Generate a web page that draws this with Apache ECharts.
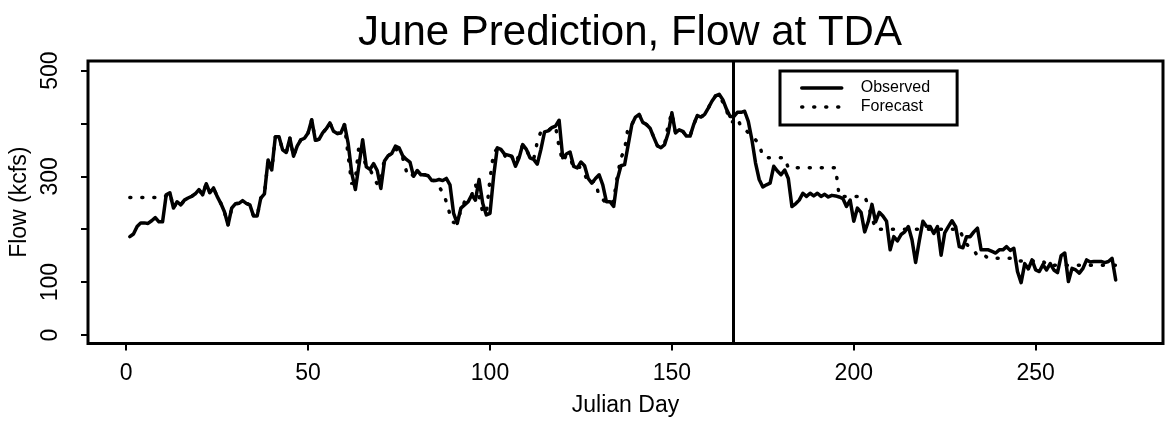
<!DOCTYPE html>
<html><head><meta charset="utf-8">
<script src="https://cdn.jsdelivr.net/npm/echarts@6/dist/echarts.min.js"></script>
<style>html,body{margin:0;padding:0;background:#fff}#c{width:1167px;height:423px}</style>
</head><body><div id="c"></div>
<script>
const firstDay = 1;
const forecastDay = 167;
const xTicks = [0, 50, 100, 150, 200, 250];
const yTicks = [0, 100, 200, 300, 400, 500];
const yTickLabels = [0, 100, 300, 500];
const seriesNames = ['Observed', 'Forecast'];

const observed = [
  186,191,205,212,212,211,216,222,214,214,
  265,269,240,252,246,255,259,262,267,275,
  265,286,269,278,262,249,233,208,240,248,
  249,254,249,246,225,225,259,267,331,312,
  375,375,350,345,372,338,357,369,372,382,
  407,368,370,382,390,401,385,381,382,398,
  363,306,275,322,369,318,313,324,311,277,
  329,339,343,357,354,339,332,327,300,311,
  303,303,301,292,292,294,292,296,284,230,
  211,240,246,252,265,255,294,249,227,230,
  300,354,351,342,340,338,319,335,360,351,
  335,332,323,351,384,386,392,395,406,335,
  342,346,319,316,327,320,296,287,296,303,
  284,252,252,243,294,320,322,360,398,412,
  417,402,398,391,374,358,354,360,382,420,
  382,388,385,376,376,398,415,412,417,429,
  442,452,455,445,427,413,413,421,421,423,
  404,369,325,294,280,284,287,319,310,303,
  312,296,243,248,255,268,262,268,263,268,
  262,266,261,264,263,261,258,243,255,215,
  240,232,195,215,247,214,232,225,215,161,
  186,178,190,195,205,180,137,178,215,205,
  205,192,205,151,193,205,216,205,167,165,
  186,186,195,202,161,161,161,158,155,161,
  161,167,160,164,120,99,135,125,142,123,
  120,133,123,135,123,118,150,155,101,126,
  123,117,126,142,138,139,139,139,137,139,
  145,104
];

const forecast = [
  260,260,260,260,260,260,260,260,260,260,
  263,269,240,252,246,255,259,262,267,275,
  265,286,269,278,262,249,233,208,240,248,
  249,254,249,246,225,225,259,267,331,312,
  375,375,350,345,372,338,357,369,372,382,
  407,368,370,382,390,401,385,381,382,398,
  340,285,295,360,340,318,313,300,285,290,
  335,339,343,355,340,335,310,298,305,305,
  303,303,301,292,292,280,270,252,228,212,
  215,235,252,255,265,285,262,232,230,295,
  345,352,345,340,330,337,325,340,360,351,
  335,332,365,385,384,386,392,395,355,328,
  340,335,316,320,316,305,287,290,290,262,
  256,250,245,255,300,335,350,395,398,412,
  417,402,398,391,374,358,354,360,398,420,
  382,388,385,376,376,398,415,412,417,429,
  442,452,455,440,425,405,402,410,394,390,
  382,375,369,360,338,335,335,335,335,335,
  335,316,316,316,316,316,316,316,316,316,
  316,316,316,316,316,262,262,262,262,262,
  262,262,262,245,222,200,200,200,200,200,
  200,200,200,200,200,200,200,200,200,200,
  200,200,200,200,200,200,200,200,200,185,
  172,165,160,150,150,150,145,145,145,145,
  145,145,145,145,140,140,140,140,140,140,
  140,140,132,132,132,132,132,132,132,132,
  132,132,132,132,132,132,132,132,132,132,
  132,132
];

const obsPairs = observed.map((v, i) => [firstDay + i, v]);
const fcPairs = forecast.map((v, i) => [firstDay + i, v]);

const chart = echarts.init(document.getElementById('c'), null, {renderer: 'canvas'});
const FONT = 'Liberation Sans, Arial, sans-serif';
chart.setOption({
  animation: false,
  backgroundColor: '#fff',
  textStyle: {fontFamily: FONT, color: '#000'},
  title: {
    text: 'June Prediction, Flow at TDA',
    left: 625, top: 7, textAlign: 'center',
    textStyle: {fontFamily: FONT, fontSize: 42, fontWeight: 'normal', color: '#000'}
  },
  legend: {
    data: seriesNames,
    orient: 'vertical',
    left: 780, top: 71,
    itemWidth: 40, itemHeight: 14, itemGap: 3,
    padding: [9, 27, 10, 20],
    borderColor: '#000', borderWidth: 3,
    itemStyle: {opacity: 0},
    lineStyle: {width: 3.5, cap: 'round'},
    textStyle: {fontFamily: FONT, fontSize: 16, color: '#000', padding: [0, 0, 0, 14]}
  },
  grid: {
    left: 88, right: 4, top: 61, bottom: 79.5,
    show: true, borderColor: '#000', borderWidth: 3, backgroundColor: 'transparent'
  },
  xAxis: {
    type: 'value', min: -10.5, max: 285,
    axisLine: {show: false, onZero: false},
    splitLine: {show: false},
    axisTick: {show: true, customValues: xTicks, length: 7, lineStyle: {color: '#000', width: 2}},
    axisLabel: {customValues: xTicks, fontSize: 23, color: '#000', margin: 19, fontFamily: FONT},
    name: 'Julian Day', nameLocation: 'middle', nameGap: 51,
    nameTextStyle: {fontSize: 23, color: '#000', fontFamily: FONT}
  },
  yAxis: {
    type: 'value', min: -16, max: 518,
    axisLine: {show: false, onZero: false},
    splitLine: {show: false},
    axisTick: {show: true, customValues: yTicks, length: 7, lineStyle: {color: '#000', width: 2}},
    axisLabel: {customValues: yTickLabels, fontSize: 23, color: '#000', rotate: 90, margin: 26, fontFamily: FONT},
    name: 'Flow (kcfs)', nameLocation: 'middle', nameRotate: 90, nameGap: 52,
    nameTextStyle: {fontSize: 23, color: '#000', fontFamily: FONT}
  },
  series: [
    {
      name: seriesNames[0], type: 'line', data: obsPairs, showSymbol: false, symbol: 'none',
      lineStyle: {color: '#000', width: 3.5, join: 'round', cap: 'round'},
      itemStyle: {color: '#000'},
      markLine: {
        silent: true, symbol: ['none', 'none'], label: {show: false},
        lineStyle: {color: '#000', width: 3, type: 'solid'},
        data: [{xAxis: forecastDay}]
      },
      z: 2
    },
    {
      name: seriesNames[1], type: 'line', data: fcPairs, showSymbol: false, symbol: 'none',
      lineStyle: {color: '#000', width: 3.5, type: [1, 11], cap: 'round'},
      itemStyle: {color: '#000'},
      z: 3
    }
  ]
});
</script>
</body></html>
